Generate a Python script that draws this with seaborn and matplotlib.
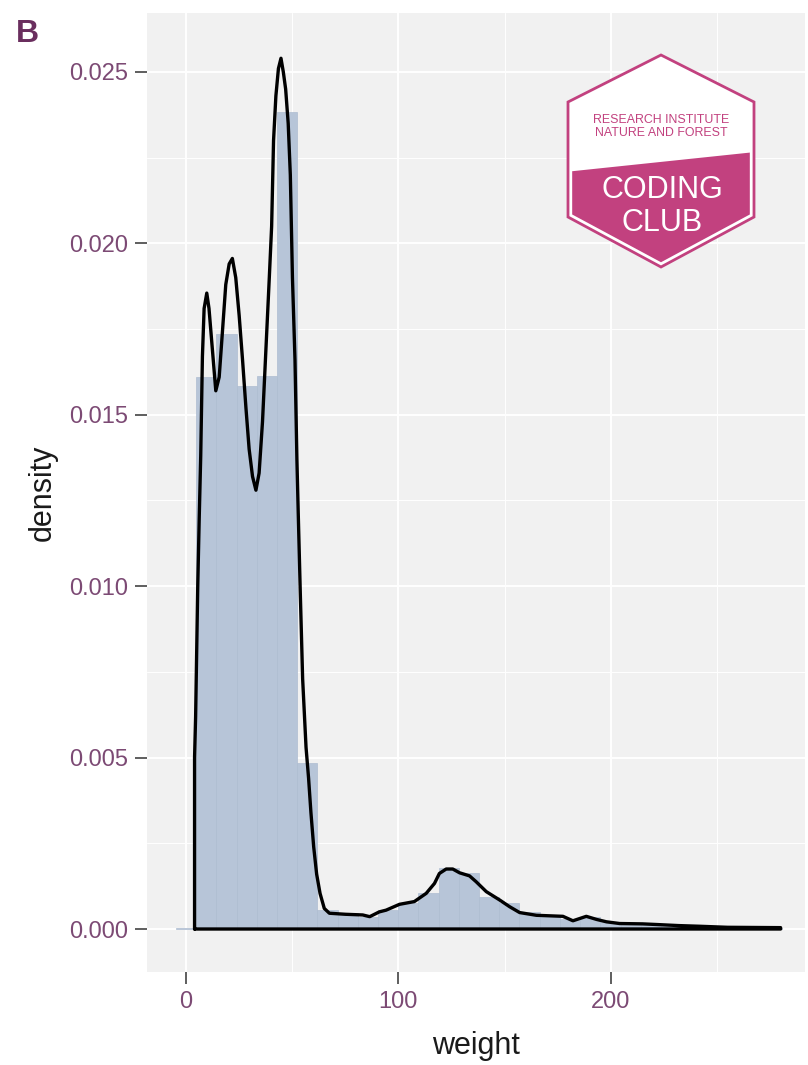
import numpy as np
import pandas as pd
import matplotlib
matplotlib.use("Agg")
import matplotlib.pyplot as plt
from matplotlib.patches import Polygon
import seaborn as sns

# ── data ────────────────────────────────────────────────────
WEIGHT_MIN, WEIGHT_MAX, N_BINS = 4, 280, 30

# density of each of the 30 histogram bins (ggplot default bins=30)
BIN_DENSITY = [0.00003, 0.01610, 0.01736, 0.01584, 0.01613, 0.02383,
               0.00484, 0.00055, 0.00046, 0.00036, 0.00055, 0.00075,
               0.00104, 0.00177, 0.00162, 0.00094, 0.00075, 0.00050,
               0.00042, 0.00028, 0.00034, 0.00021, 0.00012, 0.00012,
               0.00010, 0.00008, 0.00004, 0.00003, 0.00002, 0.00002]

# kernel density curve
DENS_X = [4.0, 4.5, 5.5, 6.2, 6.9, 7.7, 8.5, 9.75, 10.8, 12.4, 14.0, 15.6,
          17.1, 18.7, 20.3, 21.8, 23.4, 25.0, 26.6, 28.2, 29.7, 31.3, 32.9,
          34.4, 36.0, 37.6, 39.2, 40.3, 41.2, 42.3, 43.5, 44.7, 45.8, 46.9,
          48.1, 49.1, 50.1, 51.3, 52.2, 52.8, 53.8, 54.9, 55.7, 56.5, 57.7,
          58.8, 60.1, 61.5, 63.1, 65.1, 67.5, 75.0, 83.2, 86.5, 91.0, 94.2,
          100.5, 107.5, 113.1, 117.0, 119.3, 122.5, 125.6, 128.8, 133.5,
          136.6, 141.4, 147.6, 152.4, 157.1, 165.0, 177.5, 182.2, 188.5,
          193.3, 198.0, 204.2, 215.0, 222.0, 232.0, 242.0, 255.0, 280.0]
DENS_Y = [0.0050, 0.0062, 0.0100, 0.0120, 0.0138, 0.0167, 0.0181, 0.01855,
          0.0181, 0.0169, 0.0157, 0.0161, 0.0174, 0.0188, 0.0194, 0.01956,
          0.0190, 0.0179, 0.0166, 0.0152, 0.0140, 0.0132, 0.0128, 0.0133,
          0.0148, 0.0169, 0.0190, 0.0205, 0.0230, 0.0243, 0.0251, 0.0254,
          0.0250, 0.0245, 0.0235, 0.0220, 0.0190, 0.0166, 0.0137, 0.0122,
          0.0098, 0.0073, 0.0063, 0.0053, 0.0044, 0.0034, 0.0024, 0.0016,
          0.00104, 0.0006, 0.00046, 0.00043, 0.00041, 0.00036, 0.0005,
          0.00055, 0.00072, 0.0008, 0.00104, 0.00133, 0.00162, 0.00175,
          0.00175, 0.00164, 0.00155, 0.00138, 0.00109, 0.00085, 0.00065,
          0.00048, 0.0004, 0.00037, 0.00024, 0.00037, 0.00028, 0.00021,
          0.00016, 0.00015, 0.00013, 0.0001, 0.00008, 0.00005, 0.00004]

X_TICKS = [0, 100, 200]
X_TICK_LABELS = ["0", "100", "200"]
Y_TICKS = [0.000, 0.005, 0.010, 0.015, 0.020, 0.025]
Y_TICK_LABELS = ["0.000", "0.005", "0.010", "0.015", "0.020", "0.025"]
X_LABEL, Y_LABEL = "weight", "density"
PANEL_TAG = "B"
LOGO_SMALL = ["RESEARCH INSTITUTE", "NATURE AND FOREST"]
LOGO_BIG = ["CODING", "CLUB"]

# ── style ───────────────────────────────────────────────────
PANEL_BG = "#F1F1F1"
HIST_FILL = "#B7C5D8"
HIST_EDGE = "#AEBDD1"
TICK_COL = "#7C4A74"
MAGENTA = "#C2417F"

sns.set_theme(style="darkgrid")
plt.rcParams["font.family"] = ["Liberation Sans", "DejaVu Sans"]

W, H = 808, 1065
fig = plt.figure(figsize=(W / 100, H / 100), dpi=100)
fig.patch.set_facecolor("white")
ax = fig.add_axes([147 / W, (H - 972) / H, (805 - 147) / W, (972 - 13) / H])
ax.set_facecolor(PANEL_BG)

# histogram bins the way ggplot2 builds them for bins=30
bin_w = (WEIGHT_MAX - WEIGHT_MIN) / (N_BINS - 1)
edges = bin_w / 2 + bin_w * (np.arange(N_BINS + 1) - 1)
hist_df = pd.DataFrame({"weight": edges[:-1] + bin_w / 2,
                        "density": BIN_DENSITY})
sns.histplot(data=hist_df, x="weight", weights="density",
             bins=[float(e) for e in edges], stat="count",
             color=HIST_FILL, alpha=1, edgecolor=HIST_EDGE, linewidth=0.5,
             ax=ax, zorder=2)

# density polygon outline (ggplot draws the baseline too)
out_x = [WEIGHT_MIN] + DENS_X + [WEIGHT_MAX, WEIGHT_MIN]
out_y = [0.0] + DENS_Y + [0.0, 0.0]
sns.lineplot(x=out_x, y=out_y, sort=False, estimator=None, color="black",
             linewidth=2.4, ax=ax, zorder=3)

ax.set_xlim(-18.4, 291.5)
ax.set_ylim(-0.001254, 0.02672)
ax.set_xticks(X_TICKS)
ax.set_xticklabels(X_TICK_LABELS)
ax.set_yticks(Y_TICKS)
ax.set_yticklabels(Y_TICK_LABELS)
ax.set_xticks([50, 150, 250], minor=True)
ax.set_yticks([0.0025, 0.0075, 0.0125, 0.0175, 0.0225], minor=True)
ax.grid(which="major", color="white", linewidth=1.4)
ax.grid(which="minor", color="white", linewidth=0.7)
ax.set_axisbelow(True)
for s in ax.spines.values():
    s.set_visible(False)
ax.tick_params(which="major", length=8.5, width=1.1, color="#333333",
               labelcolor=TICK_COL, labelsize=17, pad=5,
               bottom=True, left=True)
ax.tick_params(which="minor", length=0)

ax.set_xlabel(X_LABEL, fontsize=22, color="#1A1A1A", va="center")
ax.set_ylabel(Y_LABEL, fontsize=22, color="#1A1A1A", va="center")
ax.xaxis.set_label_coords(0.5, -0.077)
ax.yaxis.set_label_coords(-0.159, 0.5)

# ── overlay in pixel coords: tag + logo ─────────────────────
ov = fig.add_axes([0, 0, 1, 1])
ov.set_xlim(0, W)
ov.set_ylim(H, 0)
ov.axis("off")

ov.text(27, 34, PANEL_TAG, fontsize=23, fontweight="bold", color="#6A2E5E",
        ha="center", va="center")

cx, cy = 661, 161
hexv = np.array([(661, 55), (754, 102), (754, 217), (661, 267),
                 (568, 217), (568, 102)], dtype=float)
outer = Polygon(hexv, closed=True, facecolor="white", edgecolor=MAGENTA,
                linewidth=2.0, zorder=5)
ov.add_patch(outer)
inner_v = (hexv - [cx, cy]) * 0.955 + [cx, cy]
inner = Polygon(inner_v, closed=True, facecolor="none", edgecolor="none")
ov.add_patch(inner)
band = Polygon([(560, 172.5), (765, 151), (765, 280), (560, 280)],
               closed=True, facecolor=MAGENTA, edgecolor="none", zorder=6)
ov.add_patch(band)
band.set_clip_path(inner)

ov.text(661, 120, LOGO_SMALL[0], color=MAGENTA, fontsize=8.9,
        ha="center", va="center", zorder=7)
ov.text(661, 132.5, LOGO_SMALL[1], color=MAGENTA, fontsize=8.9,
        ha="center", va="center", zorder=7)
ov.text(662, 190, LOGO_BIG[0], color="white", fontsize=22,
        ha="center", va="center", zorder=7)
ov.text(662, 223, LOGO_BIG[1], color="white", fontsize=22,
        ha="center", va="center", zorder=7)

fig.savefig("out.png", dpi=100)
